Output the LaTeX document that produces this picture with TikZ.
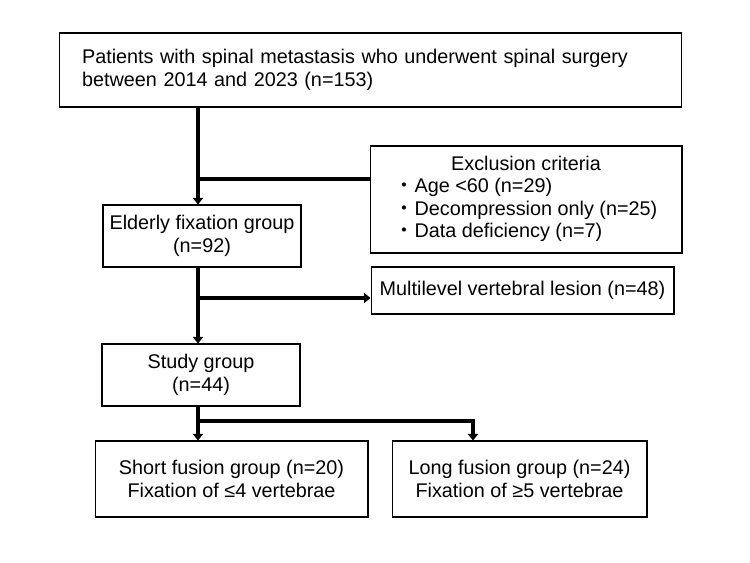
\documentclass[tikz,border=0pt]{standalone}
\usepackage{fontspec}
\setmainfont{Liberation Sans}
\newfontfamily\cjk{Noto Sans CJK JP}
\usetikzlibrary{positioning,arrows.meta}
\newcommand{\bul}{{\cjk ・}}

\begin{document}
\begin{tikzpicture}[
  x=0.02cm, y=-0.02cm,
  font=\fontsize{11.27pt}{12.86pt}\selectfont,
  box/.style={draw, line width=0.6pt, inner sep=0pt, align=center},
  arr/.style={-{Triangle[length=1.3mm, width=2mm]}, line width=2.4pt},
  ln/.style={line width=2.4pt}
]
\useasboundingbox (0,0) rectangle (750,563);
\node[box, minimum width=12.46cm, minimum height=1.48cm, inner xsep=0.46cm, text width=11.54cm, align=left] (pt) at (370.5,70)
  {Patients with spinal metastasis who underwent spinal surgery\\between 2014 and 2023 (n=153)};
\node[box, minimum width=6.24cm, minimum height=2.14cm] (ex) at (526,199.5)
  {\begin{tabular}{@{}l@{}}\multicolumn{1}{@{}c@{}}{Exclusion criteria}\\ \bul Age <60 (n=29)\\ \bul Decompression only (n=25)\\ \bul Data deficiency (n=7)\end{tabular}};
\node[box, minimum width=3.96cm, minimum height=1.24cm] (eg) at (202,236) {Elderly fixation group\\(n=92)};
\node[box, minimum width=6.06cm, minimum height=0.94cm] (ml) at (522.5,290.5) {Multilevel vertebral lesion (n=48)};
\node[box, minimum width=3.96cm, minimum height=1.24cm] (sg) at (201,375) {Study group\\(n=44)};
\node[box, minimum width=5.46cm, minimum height=1.52cm] (sf) at (231.5,479) {Short fusion group (n=20)\\Fixation of ≤4 vertebrae};
\node[box, minimum width=5.1cm, minimum height=1.52cm, right=0.46cm of sf] (lf) {Long fusion group (n=24)\\Fixation of ≥5 vertebrae};
% branch points on the spine
\coordinate (b1) at (198,179);
\coordinate (b2) at (198,298);
\coordinate (b3) at (198,421);
\coordinate (lx) at (473,421);
\draw[arr] (pt.south -| b1) -- (eg.north -| b1);
\draw[ln] (b1) -- (ex.west |- b1);
\draw[arr] (eg.south -| b2) -- (sg.north -| b2);
\draw[arr] (b2) -- (ml.west |- b2);
\draw[arr] (sg.south -| b3) -- (sf.north -| b3);
\draw[arr] (b3) -| (lf.north -| lx);
\end{tikzpicture}
\end{document}
